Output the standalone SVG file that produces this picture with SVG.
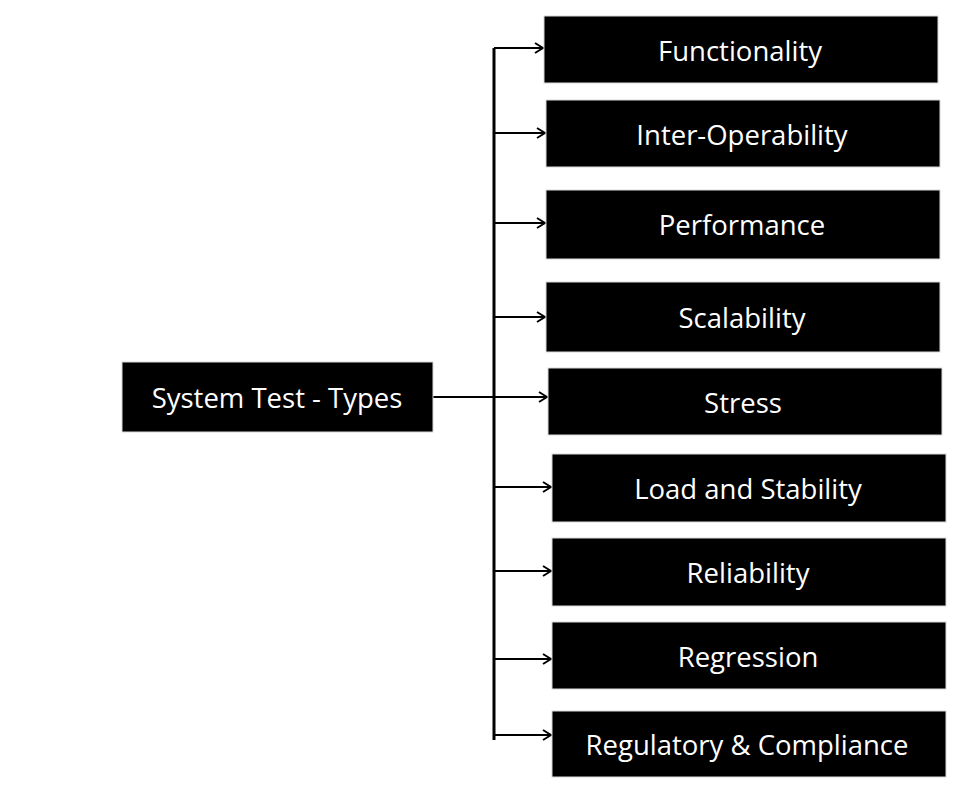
<svg xmlns="http://www.w3.org/2000/svg" width="960" height="792" viewBox="0 0 960 792">
<style>
.box{fill:#000;stroke:#d8d8d8;stroke-width:1}
.lbl{fill:#fff;font-family:"Open Sans","Liberation Sans",sans-serif;font-size:27.5px;text-anchor:middle;dominant-baseline:central}
.con{stroke:#000;stroke-width:2;fill:none}
.trunk{stroke:#000;stroke-width:3;fill:none}
</style>
<defs>
<marker id="arr" markerWidth="10" markerHeight="12" refX="9" refY="6" orient="auto" markerUnits="userSpaceOnUse">
<path d="M1,1 L9,6 L1,11" fill="none" stroke="#000" stroke-width="2"/>
</marker>
</defs>
<rect width="960" height="792" fill="#fff"/>
<g id="connectors">
<path class="trunk" d="M494,48 V740"/>
<path class="con" d="M433,397 H494"/>
<path class="con" d="M494,48 H543" marker-end="url(#arr)"/>
<path class="con" d="M494,133 H545" marker-end="url(#arr)"/>
<path class="con" d="M494,223 H545" marker-end="url(#arr)"/>
<path class="con" d="M494,317 H545" marker-end="url(#arr)"/>
<path class="con" d="M494,397 H547" marker-end="url(#arr)"/>
<path class="con" d="M494,487 H551" marker-end="url(#arr)"/>
<path class="con" d="M494,571 H551" marker-end="url(#arr)"/>
<path class="con" d="M494,659 H551" marker-end="url(#arr)"/>
<path class="con" d="M494,735 H551" marker-end="url(#arr)"/>
</g>
<g id="system-test-types"><rect class="box" x="122" y="362" width="311" height="70"/><text class="lbl" x="277" y="397">System Test - Types</text></g>
<g id="functionality"><rect class="box" x="544" y="16" width="394" height="67"/><text class="lbl" x="740" y="50">Functionality</text></g>
<g id="inter-operability"><rect class="box" x="546" y="100" width="394" height="67"/><text class="lbl" x="742" y="134">Inter-Operability</text></g>
<g id="performance"><rect class="box" x="546" y="190" width="394" height="69"/><text class="lbl" x="742" y="224">Performance</text></g>
<g id="scalability"><rect class="box" x="546" y="282" width="394" height="70"/><text class="lbl" x="742" y="317">Scalability</text></g>
<g id="stress"><rect class="box" x="548" y="368" width="394" height="67"/><text class="lbl" x="743" y="402">Stress</text></g>
<g id="load-and-stability"><rect class="box" x="552" y="454" width="394" height="68"/><text class="lbl" x="748" y="488">Load and Stability</text></g>
<g id="reliability"><rect class="box" x="552" y="538" width="394" height="68"/><text class="lbl" x="748" y="572">Reliability</text></g>
<g id="regression"><rect class="box" x="552" y="622" width="394" height="67"/><text class="lbl" x="748" y="656">Regression</text></g>
<g id="regulatory-compliance"><rect class="box" x="552" y="711" width="394" height="66"/><text class="lbl" x="747" y="744">Regulatory &amp; Compliance</text></g>
</svg>
